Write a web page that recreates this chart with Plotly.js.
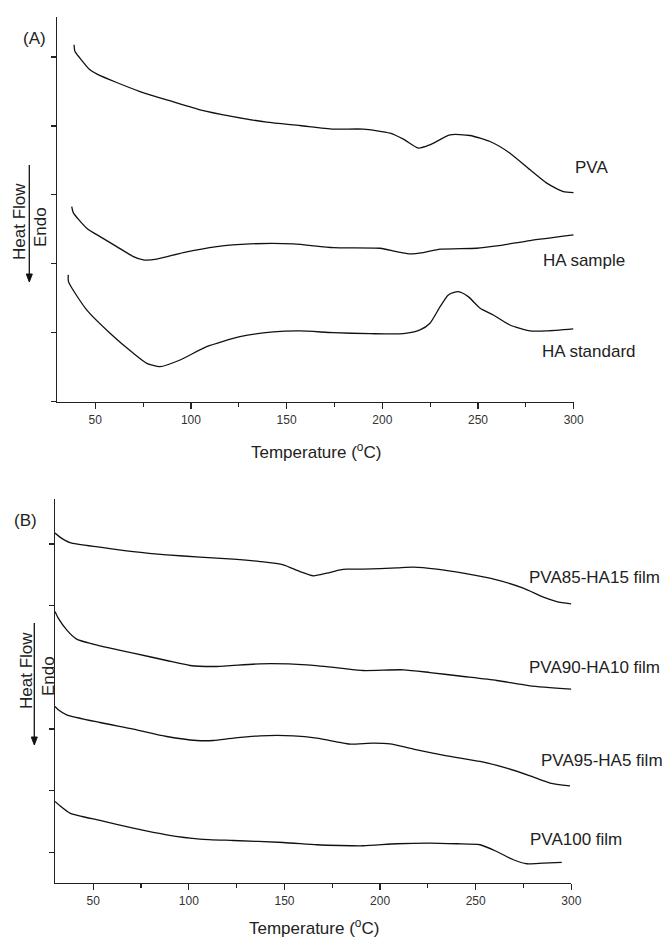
<!DOCTYPE html>
<html>
<head>
<meta charset="utf-8">
<script src="https://cdn.plot.ly/plotly-3.0.1.min.js"></script>
<style>html,body{margin:0;padding:0;background:#fff;}#chart{width:669px;height:940px;}</style>
</head>
<body>
<div id="chart"></div>
<script>
// ---- Panel (A) data: temperature (°C) and heat flow (arbitrary, tick units) ----
const pvaT = [38.9, 39.4, 42.0, 47.2, 50.7, 61.2, 73.4, 87.3, 104.7, 122.0, 139.6, 157.0, 174.4, 190.1, 204.0, 211.0, 218.8, 224.9, 235.4, 245.8, 256.3, 266.7, 277.2, 285.9, 294.6, 300.0];
const pvaY = [5.177, 5.08, 4.984, 4.814, 4.756, 4.63, 4.499, 4.379, 4.234, 4.136, 4.055, 4.006, 3.954, 3.954, 3.895, 3.808, 3.678, 3.726, 3.871, 3.861, 3.774, 3.605, 3.363, 3.170, 3.048, 3.033];

const haSampleT = [37.7, 38.5, 45.5, 52.5, 61.2, 69.9, 75.1, 82.1, 96.0, 113.5, 130.9, 153.5, 174.4, 198.8, 207.5, 214.5, 221.4, 230.2, 249.3, 259.8, 277.2, 300.0];
const haSampleY = [2.830, 2.743, 2.517, 2.395, 2.250, 2.105, 2.057, 2.067, 2.163, 2.250, 2.289, 2.289, 2.235, 2.226, 2.177, 2.144, 2.163, 2.212, 2.226, 2.260, 2.337, 2.419];

const haStdT = [35.9, 36.0, 45.5, 57.7, 69.9, 76.9, 83.8, 94.3, 108.2, 125.6, 143.0, 157.0, 174.4, 193.6, 211.0, 219.7, 224.9, 230.2, 234.5, 239.7, 244.9, 251.1, 258.0, 266.7, 277.2, 285.9, 299.8];
const haStdY = [1.839, 1.742, 1.331, 0.993, 0.702, 0.557, 0.508, 0.605, 0.798, 0.943, 1.012, 1.026, 1.001, 0.987, 0.987, 1.041, 1.138, 1.379, 1.549, 1.597, 1.524, 1.356, 1.258, 1.113, 1.026, 1.026, 1.055];

// ---- Panel (B) data ----
const f85T = [30.0, 32.6, 37.8, 53.5, 70.9, 88.4, 105.8, 123.3, 137.2, 149.4, 158.1, 165.1, 172.1, 179.1, 182.6, 191.2, 208.7, 217.4, 229.6, 243.5, 261.0, 274.9, 285.4, 292.4, 300.0];
const f85Y = [5.177, 5.112, 5.024, 4.950, 4.878, 4.825, 4.788, 4.755, 4.716, 4.663, 4.554, 4.485, 4.528, 4.582, 4.593, 4.593, 4.614, 4.626, 4.593, 4.528, 4.420, 4.285, 4.139, 4.068, 4.031];

const f90T = [30.0, 31.7, 36.1, 41.3, 53.5, 70.9, 88.4, 100.6, 114.6, 137.2, 161.6, 179.1, 191.2, 212.2, 226.1, 243.6, 261.0, 278.4, 300.0];
const f90Y = [3.906, 3.799, 3.609, 3.459, 3.350, 3.232, 3.112, 3.031, 3.015, 3.058, 3.042, 2.989, 2.950, 2.961, 2.917, 2.853, 2.788, 2.702, 2.648];

const f95T = [30.0, 31.7, 36.1, 53.5, 70.9, 88.4, 104.1, 112.8, 123.3, 137.2, 154.6, 166.9, 179.1, 184.3, 196.5, 205.2, 217.4, 234.9, 252.3, 266.2, 278.4, 288.9, 299.3];
const f95Y = [2.366, 2.313, 2.232, 2.107, 2.000, 1.880, 1.815, 1.815, 1.854, 1.891, 1.891, 1.854, 1.783, 1.757, 1.773, 1.762, 1.676, 1.567, 1.475, 1.368, 1.243, 1.125, 1.081];

const f100T = [30.0, 32.6, 37.8, 53.5, 70.9, 88.4, 105.8, 123.3, 149.4, 166.9, 179.1, 191.2, 208.7, 226.1, 240.1, 252.3, 261.0, 269.7, 276.7, 285.4, 295.0];
const f100Y = [0.827, 0.757, 0.639, 0.519, 0.395, 0.287, 0.217, 0.194, 0.162, 0.125, 0.113, 0.109, 0.141, 0.152, 0.141, 0.125, 0.016, -0.118, -0.183, -0.172, -0.162];

const xTickVals = [50, 100, 150, 200, 250, 300];
const xTickText = ['50', '100', '150', '200', '250', '300'];
const labelsA = ['PVA', 'HA sample', 'HA standard'];
const labelsB = ['PVA85-HA15 film', 'PVA90-HA10 film', 'PVA95-HA5 film', 'PVA100 film'];

// ---- layout helpers ----
const W = 669, H = 940;
const px = v => v / W;
const py = v => 1 - v / H;
const lineStyle = {color: '#111', width: 1.3, shape: 'spline', smoothing: 0.6};

function tr(x, y, xa, ya) {
  return {x: x, y: y, xaxis: xa, yaxis: ya, type: 'scatter', mode: 'lines', line: lineStyle, showlegend: false, hoverinfo: 'skip'};
}

const data = [
  tr(pvaT, pvaY, 'x', 'y'),
  tr(haSampleT, haSampleY, 'x', 'y'),
  tr(haStdT, haStdY, 'x', 'y'),
  tr(f85T, f85Y, 'x2', 'y2'),
  tr(f90T, f90Y, 'x2', 'y2'),
  tr(f95T, f95Y, 'x2', 'y2'),
  tr(f100T, f100Y, 'x2', 'y2')
];

const FAM = 'Liberation Sans, Arial, sans-serif';
const tickFont = {family: FAM, size: 12, color: '#333'};
function xAxis(domain, anchor) {
  return {
    domain: domain, anchor: anchor, range: [30, 300],
    tickmode: 'array', tickvals: xTickVals, ticktext: xTickText,
    ticks: 'outside', ticklen: 6, tickwidth: 1.2, tickcolor: '#222',
    minor: {dtick: 25, tick0: 0, ticks: 'outside', ticklen: 4, tickcolor: '#222', tickwidth: 1.2, showgrid: false},
    showline: true, linecolor: '#222', linewidth: 1.5,
    showgrid: false, zeroline: false, tickfont: tickFont, fixedrange: true
  };
}
function yAxis(domain, anchor, range) {
  return {
    domain: domain, anchor: anchor, range: range,
    dtick: 1, tick0: 0, ticks: 'outside', ticklen: 5, tickwidth: 1.2, tickcolor: '#222',
    showticklabels: false, showline: true, linecolor: '#222', linewidth: 1.5,
    showgrid: false, zeroline: false, fixedrange: true
  };
}

const labFont = {family: FAM, size: 17, color: '#222'};
function txt(t, x, y, opts) {
  return Object.assign({text: t, xref: 'paper', yref: 'paper', x: px(x), y: py(y), showarrow: false,
    xanchor: 'left', yanchor: 'middle', font: labFont}, opts || {});
}

const annotations = [
  txt('(A)', 21, 38),
  txt('(B)', 12, 520),
  txt(labelsA[0], 573, 167),
  txt(labelsA[1], 541, 260),
  txt(labelsA[2], 540, 351),
  txt(labelsB[0], 527, 577),
  txt(labelsB[1], 527, 667),
  txt(labelsB[2], 539, 760),
  txt(labelsB[3], 528, 839),
  txt('Temperature (<sup>o</sup>C)', 316, 451, {xanchor: 'center'}),
  txt('Temperature (<sup>o</sup>C)', 314, 927, {xanchor: 'center'}),
  txt('Heat Flow', 19, 222, {xanchor: 'center', textangle: -90}),
  txt('Endo', 40, 227, {xanchor: 'center', textangle: -90}),
  txt('Heat Flow', 26, 670, {xanchor: 'center', textangle: -90}),
  txt('Endo', 48, 676, {xanchor: 'center', textangle: -90})
];

// Down arrows beside "Heat Flow" (decorations, in paper coordinates)
function arrowShapes(x, y0, y1) {
  return [
    {type: 'line', xref: 'paper', yref: 'paper', x0: px(x), x1: px(x), y0: py(y0), y1: py(y1 - 4), line: {color: '#111', width: 1.3}},
    {type: 'path', xref: 'paper', yref: 'paper',
     path: 'M ' + px(x - 3) + ' ' + py(y1 - 8) + ' L ' + px(x + 3) + ' ' + py(y1 - 8) + ' L ' + px(x) + ' ' + py(y1) + ' Z',
     fillcolor: '#111', line: {color: '#111', width: 1}}
  ];
}

const layout = {
  width: W, height: H,
  margin: {l: 0, r: 0, t: 0, b: 0},
  paper_bgcolor: '#fff', plot_bgcolor: '#fff',
  showlegend: false,
  xaxis: xAxis([px(57), px(573.7)], 'y'),
  yaxis: yAxis([py(401.7), py(17)], 'x', [0, 5.58]),
  xaxis2: xAxis([px(55), px(571.3)], 'y2'),
  yaxis2: yAxis([py(882.7), py(499)], 'x2', [-0.49, 5.73]),
  annotations: annotations,
  shapes: [].concat(arrowShapes(29.3, 165, 282), arrowShapes(34.3, 623, 745))
};

Plotly.newPlot('chart', data, layout, {staticPlot: true, displayModeBar: false});
</script>
</body>
</html>
